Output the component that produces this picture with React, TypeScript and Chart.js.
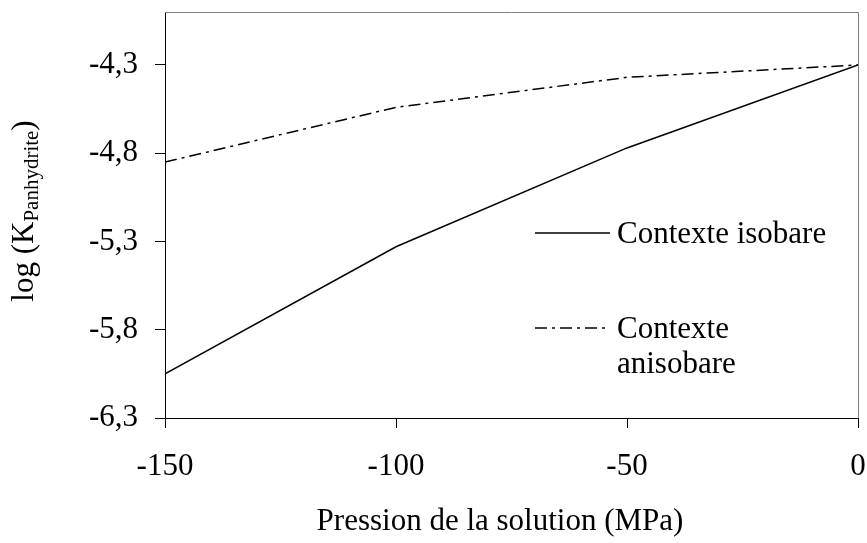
import React, { useEffect, useRef } from 'react';
import { Chart, registerables } from 'chart.js';

Chart.register(...registerables);

const pressures = [-150, -100, -50, 0];
const isobare = [-6.05, -5.33, -4.77, -4.3];
const anisobare = [-4.85, -4.54, -4.37, -4.3];
const yTicks = [-6.3, -5.8, -5.3, -4.8, -4.3];
const yTickLabels = ['-6,3', '-5,8', '-5,3', '-4,8', '-4,3'];
const xTicks = [-150, -100, -50, 0];
const xTickLabels = ['-150', '-100', '-50', '0'];
const legendLines = [['Contexte isobare'], ['Contexte', 'anisobare']];
const xTitle = 'Pression de la solution (MPa)';
const yTitleMain = 'log (K';
const yTitleSub = 'Panhydrite';
const yTitleEnd = ')';

const FONT = '"Liberation Serif", "Times New Roman", serif';
const DASH = [12, 5, 3, 5];

const zeroPad = (s: any) => {
  s.paddingTop = 0;
  s.paddingBottom = 0;
  s.paddingLeft = 0;
  s.paddingRight = 0;
};

const decorPlugin = {
  id: 'decor',
  beforeDatasetsDraw(chart: any) {
    const { ctx, chartArea } = chart;
    const { left, right, top, bottom } = chartArea;
    ctx.save();
    ctx.strokeStyle = '#808080';
    ctx.lineWidth = 1;
    ctx.beginPath();
    ctx.moveTo(left, top + 0.5);
    ctx.lineTo(right + 0.5, top + 0.5);
    ctx.lineTo(right + 0.5, bottom);
    ctx.stroke();
    ctx.restore();
  },
  afterDraw(chart: any) {
    const { ctx, chartArea } = chart;
    const { left, top } = chartArea;
    ctx.save();
    ctx.fillStyle = '#000';
    ctx.strokeStyle = '#000';

    // x title
    ctx.font = `31px ${FONT}`;
    ctx.textAlign = 'center';
    ctx.textBaseline = 'alphabetic';
    ctx.fillText(xTitle, left + 335, 530);

    // y title (rotated, with subscript)
    const mainFont = `31px ${FONT}`;
    const subFont = `21px ${FONT}`;
    ctx.font = mainFont;
    const w1 = ctx.measureText(yTitleMain).width;
    const w3 = ctx.measureText(yTitleEnd).width;
    ctx.font = subFont;
    const w2 = ctx.measureText(yTitleSub).width;
    const total = w1 + w2 + w3;
    ctx.save();
    ctx.translate(33, top + 199);
    ctx.rotate(-Math.PI / 2);
    ctx.textAlign = 'left';
    ctx.textBaseline = 'alphabetic';
    let x0 = -total / 2;
    ctx.font = mainFont;
    ctx.fillText(yTitleMain, x0, 0);
    x0 += w1;
    ctx.font = subFont;
    ctx.fillText(yTitleSub, x0, 5);
    x0 += w2;
    ctx.font = mainFont;
    ctx.fillText(yTitleEnd, x0, 0);
    ctx.restore();

    // legend
    const lx1 = left + 370;
    const lx2 = left + 445;
    const tx = left + 452;
    const rows = [top + 221, top + 316];
    ctx.font = `31px ${FONT}`;
    ctx.textAlign = 'left';
    ctx.textBaseline = 'middle';
    legendLines.forEach((lines, i) => {
      const y = rows[i];
      ctx.lineWidth = 1.5;
      ctx.setLineDash(i === 1 ? DASH : []);
      ctx.beginPath();
      ctx.moveTo(lx1, y);
      ctx.lineTo(lx2, y);
      ctx.stroke();
      ctx.setLineDash([]);
      lines.forEach((t, j) => {
        ctx.fillText(t, tx, y + 2 + j * 35);
      });
    });
    ctx.restore();
  },
};

export default function App() {
  const ref = useRef<HTMLCanvasElement>(null);
  useEffect(() => {
    if (!ref.current) return;
    const chart = new Chart(ref.current, {
      type: 'line',
      data: {
        datasets: [
          {
            label: legendLines[0].join(' '),
            data: pressures.map((x, i) => ({ x, y: isobare[i] })),
            borderColor: '#000',
            borderWidth: 1.5,
            pointRadius: 0,
            tension: 0,
            fill: false,
          },
          {
            label: legendLines[1].join(' '),
            data: pressures.map((x, i) => ({ x, y: anisobare[i] })),
            borderColor: '#000',
            borderWidth: 1.5,
            borderDash: DASH,
            pointRadius: 0,
            tension: 0,
            fill: false,
          },
        ],
      },
      options: {
        animation: false,
        responsive: false,
        devicePixelRatio: 1,
        layout: { padding: { top: 12, right: 9, left: 0, bottom: 0 } },
        plugins: { legend: { display: false }, tooltip: { enabled: false } },
        scales: {
          x: {
            type: 'linear',
            min: -150,
            max: 0,
            afterBuildTicks: (s: any) => {
              s.ticks = xTicks.map((v) => ({ value: v }));
            },
            afterFit: (s: any) => {
              s.height = 125;
              zeroPad(s);
            },
            ticks: {
              color: '#000',
              font: { family: FONT, size: 31 },
              padding: 20,
              maxRotation: 0,
              autoSkip: false,
              callback: (v: any) => xTickLabels[xTicks.indexOf(Number(v))] ?? String(v),
            },
            grid: { drawOnChartArea: false, drawTicks: true, tickLength: 10, color: '#000', lineWidth: 1 },
            border: { display: true, color: '#000', width: 1 },
          },
          y: {
            type: 'linear',
            min: -6.3,
            max: -4.0,
            afterBuildTicks: (s: any) => {
              s.ticks = yTicks.map((v) => ({ value: v }));
            },
            afterFit: (s: any) => {
              s.width = 165;
              zeroPad(s);
            },
            ticks: {
              color: '#000',
              font: { family: FONT, size: 31 },
              padding: 17,
              autoSkip: false,
              callback: (v: any) => {
                const i = yTicks.findIndex((t) => Math.abs(t - Number(v)) < 1e-6);
                return i >= 0 ? yTickLabels[i] : '';
              },
            },
            grid: { drawOnChartArea: false, drawTicks: true, tickLength: 10, color: '#000', lineWidth: 1 },
            border: { display: true, color: '#000', width: 1 },
          },
        },
      },
      plugins: [decorPlugin],
    });
    return () => chart.destroy();
  }, []);
  return (
    <div style={{ position: 'fixed', left: 0, top: 0, width: 867, height: 543, background: '#fff' }}>
      <canvas ref={ref} width={867} height={543} style={{ display: 'block' }} />
    </div>
  );
}
